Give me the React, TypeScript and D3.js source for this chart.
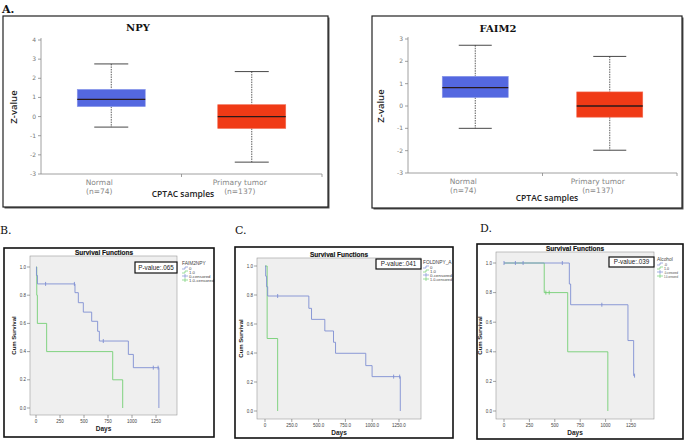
import React from "react";
import * as d3 from "d3";

// ---------- Data ----------
const boxGroups = ["Normal", "Primary tumor"];
const boxCounts = ["(n=74)", "(n=137)"];
// [lower whisker, Q1, median, Q3, upper whisker]
const npyStats = [
  [-0.55, 0.52, 0.9, 1.42, 2.75],
  [-2.38, -0.62, 0.0, 0.62, 2.35],
];
const faim2Stats = [
  [-1.0, 0.38, 0.82, 1.33, 2.72],
  [-1.98, -0.5, 0.0, 0.63, 2.22],
];
const npyTicks = [4, 3, 2, 1, 0, -1, -2, -3];
const faim2Ticks = [3, 2, 1, 0, -1, -2, -3];

const kmXTicks = [0, 250, 500, 750, 1000, 1250];
const kmYTicks = [0, 0.2, 0.4, 0.6, 0.8, 1.0];

// B: FAIM2NPY
const bSteps0: [number, number][] = [[0, 1], [5, 0.94], [15, 0.88], [406, 0.818], [441, 0.747], [493, 0.68], [580, 0.615], [642, 0.544], [660, 0.475], [962, 0.38], [1014, 0.286], [1280, 0]];
const bCens0: [number, number][] = [[100, 0.88], [400, 0.88], [701, 0.475], [1222, 0.286], [1272, 0.286]];
const bSteps1: [number, number][] = [[0, 1], [8, 0.8], [14, 0.6], [111, 0.4], [799, 0.2], [903, 0]];
const bCens1: [number, number][] = [];

// C: FOLDNPY_A
const cSteps0: [number, number][] = [[0, 1], [6, 0.93], [15, 0.857], [25, 0.793], [409, 0.708], [434, 0.632], [558, 0.552], [639, 0.474], [658, 0.398], [940, 0.313], [999, 0.237], [1262, 0]];
const cCens0: [number, number][] = [[118, 0.793], [1200, 0.237], [1256, 0.237]];
const cSteps1: [number, number][] = [[0, 1], [20, 0.5], [118, 0]];
const cCens1: [number, number][] = [];

// D: Alcohol
const dSteps0: [number, number][] = [[0, 1], [643, 0.858], [656, 0.718], [1220, 0.476], [1276, 0.239]];
const dCens0: [number, number][] = [[0, 1], [112, 1], [188, 1], [574, 1], [963, 0.718], [1285, 0.239]];
const dSteps1: [number, number][] = [[0, 1], [396, 0.8], [627, 0.4], [1022, 0]];
const dCens1: [number, number][] = [[412, 0.8], [445, 0.8]];

const legendLabels = ["0", "1.0", "0-censored", "1.0-censored"];
const dLegendLabels = [".0", "1.0", ".0-censored", "1.0-censored"];

const BLUE_BOX = "#5468e0";
const RED_BOX = "#f03a16";
const KM_BLUE = "#7f8fd2";
const KM_GREEN = "#74cf74";

// ---------- Box panel ----------
function BoxPanel(props: {
  frame: [number, number, number, number];
  title: string;
  titleX: number;
  titleY: number;
  domain: [number, number];
  yTop: number;
  yBottom: number;
  axisX: number;
  axisRight: number;
  ticks: number[];
  stats: number[][];
  boxW: number;
  zX: number;
  cptacX: number;
  cptacY: number;
}) {
  const { frame, title, titleX, titleY, domain, yTop, yBottom, axisX, axisRight, ticks, stats, boxW, zX, cptacX, cptacY } = props;
  const y = d3.scaleLinear().domain(domain).range([yBottom, yTop]);
  const x = d3.scalePoint<string>().domain(boxGroups).range([axisX, axisRight]).padding(0.5);
  const colors = [BLUE_BOX, RED_BOX];
  const [fx, fy, fw, fh] = frame;
  return (
    <g>
      <rect x={fx + 1.5} y={fy + 1.5} width={fw} height={fh} fill="#555" />
      <rect x={fx} y={fy} width={fw} height={fh} fill="#fff" stroke="#222" strokeWidth={1.2} />
      <text x={titleX} y={titleY} textAnchor="middle" fontFamily="DejaVu Serif" fontWeight="bold" fontSize={10} fill="#111">{title}</text>
      {/* y axis */}
      <line x1={axisX} x2={axisX} y1={yTop - 2} y2={yBottom} stroke="#888" strokeWidth={0.8} />
      {ticks.map((t) => (
        <g key={t}>
          <line x1={axisX - 3} x2={axisX} y1={y(t)} y2={y(t)} stroke="#888" strokeWidth={0.8} />
          <text x={axisX - 5} y={y(t) + 2} textAnchor="end" fontFamily="DejaVu Sans" fontSize={6} fill="#777">{t}</text>
        </g>
      ))}
      {/* x axis */}
      <line x1={axisX} x2={axisRight} y1={yBottom} y2={yBottom} stroke="#888" strokeWidth={0.8} />
      <line x1={(axisX + axisRight) / 2} x2={(axisX + axisRight) / 2} y1={yBottom} y2={yBottom + 3} stroke="#888" strokeWidth={0.8} />
      <line x1={axisRight} x2={axisRight} y1={yBottom} y2={yBottom + 3} stroke="#888" strokeWidth={0.8} />
      {stats.map((s, i) => {
        const cx = x(boxGroups[i]) as number;
        const capW = boxW * 0.5;
        return (
          <g key={i}>
            <line x1={cx} x2={cx} y1={y(s[4])} y2={y(s[3])} stroke="#333" strokeWidth={0.8} strokeDasharray="1.5,1" />
            <line x1={cx} x2={cx} y1={y(s[1])} y2={y(s[0])} stroke="#333" strokeWidth={0.8} strokeDasharray="1.5,1" />
            <line x1={cx - capW / 2} x2={cx + capW / 2} y1={y(s[4])} y2={y(s[4])} stroke="#333" strokeWidth={0.9} />
            <line x1={cx - capW / 2} x2={cx + capW / 2} y1={y(s[0])} y2={y(s[0])} stroke="#333" strokeWidth={0.9} />
            <rect x={cx - boxW / 2} y={y(s[3])} width={boxW} height={y(s[1]) - y(s[3])} fill={colors[i]} stroke={i === 0 ? "#8a98ea" : "#f26a50"} strokeWidth={0.6} />
            <line x1={cx - boxW / 2} x2={cx + boxW / 2} y1={y(s[2])} y2={y(s[2])} stroke="#2a1a1a" strokeWidth={1.3} />
            <text x={cx - 12} y={yBottom + 11} textAnchor="middle" fontFamily="DejaVu Sans" fontSize={7.5} fill="#888">{boxGroups[i]}</text>
            <text x={cx - 12} y={yBottom + 20} textAnchor="middle" fontFamily="DejaVu Sans" fontSize={7.5} fill="#888">{boxCounts[i]}</text>
          </g>
        );
      })}
      <text x={cptacX} y={cptacY} textAnchor="middle" fontFamily="Open Sans" fontWeight={600} fontSize={8.5} fill="#222">CPTAC samples</text>
      <text transform={`translate(${zX},${(yTop + yBottom) / 2}) rotate(-90)`} textAnchor="middle" fontFamily="Open Sans" fontWeight={600} fontSize={9.5} fill="#222">Z-value</text>
    </g>
  );
}

// ---------- KM panel ----------
function stepPath(steps: [number, number][], end: number, x: d3.ScaleLinear<number, number>, y: d3.ScaleLinear<number, number>) {
  const p = d3.path();
  p.moveTo(x(steps[0][0]), y(steps[0][1]));
  let prev = steps[0][1];
  for (let i = 1; i < steps.length; i++) {
    const [t, s] = steps[i];
    p.lineTo(x(t), y(prev));
    p.lineTo(x(t), y(s));
    prev = s;
  }
  if (end > steps[steps.length - 1][0]) p.lineTo(x(end), y(prev));
  return p.toString();
}

function KMPanel(props: {
  id: string;
  letter: string;
  letterX: number;
  letterY: number;
  frame: [number, number, number, number];
  plot: [number, number, number, number];
  xr: [number, number];
  yr: [number, number];
  steps0: [number, number][];
  end0: number;
  cens0: [number, number][];
  steps1: [number, number][];
  end1: number;
  cens1: [number, number][];
  pText: string;
  pBox: [number, number, number, number];
  legendTitle: string;
  legendX: number;
  legendY: number;
  labels: string[];
  legendFont: number;
  legendMaxW?: number;
  xFmt: (v: number) => string;
}) {
  const P = props;
  const x = d3.scaleLinear().domain([0, 1250]).range(P.xr);
  const y = d3.scaleLinear().domain([0, 1]).range(P.yr);
  const [fx, fy, fw, fh] = P.frame;
  const [px, py, pw, ph] = P.plot;
  const cross = (c: [number, number], color: string, k: number) => (
    <g key={k}>
      <line x1={x(c[0])} x2={x(c[0])} y1={y(c[1]) - 2} y2={y(c[1]) + 2} stroke={color} strokeWidth={0.9} />
    </g>
  );
  return (
    <g>
      <text x={P.letterX} y={P.letterY} fontFamily="DejaVu Serif" fontSize={11} fill="#111">{P.letter}</text>
      <rect x={fx} y={fy} width={fw} height={fh} fill="#fff" />
      <rect x={px} y={py} width={pw} height={ph} fill="#efefef" stroke="#999" strokeWidth={0.6} />
      <text x={Math.round((px + px + pw) / 2)} y={Math.round(py - 1)} textAnchor="middle" fontFamily="Arial, Liberation Sans" fontWeight="bold" fontSize={6.5} fill="#111" stroke="#111" strokeWidth={0.15}>Survival Functions</text>
      {kmYTicks.map((t) => (
        <g key={t}>
          <line x1={px - 3} x2={px} y1={y(t)} y2={y(t)} stroke="#666" strokeWidth={0.6} />
          <text x={px - 4} y={y(t) + 1.6} textAnchor="end" fontFamily="Liberation Sans" fontSize={4.5} fill="#444">{t.toFixed(1)}</text>
        </g>
      ))}
      {kmXTicks.map((t) => (
        <g key={t}>
          <line x1={x(t)} x2={x(t)} y1={py + ph} y2={py + ph + 3} stroke="#666" strokeWidth={0.6} />
          <text x={x(t)} y={py + ph + 8} textAnchor="middle" fontFamily="Liberation Sans" fontSize={4.5} fill="#444">{P.xFmt(t)}</text>
        </g>
      ))}
      <text x={(px + px + pw) / 2} y={py + ph + 16} textAnchor="middle" fontFamily="Liberation Sans" fontWeight="bold" fontSize={6.5} fill="#222">Days</text>
      <text transform={`translate(${px - 14},${(py + py + ph) / 2}) rotate(-90)`} textAnchor="middle" fontFamily="Liberation Sans" fontWeight="bold" fontSize={6} fill="#222">Cum Survival</text>
      <path d={stepPath(P.steps1, P.end1, x, y)} fill="none" stroke={KM_GREEN} strokeWidth={0.9} />
      <path d={stepPath(P.steps0, P.end0, x, y)} fill="none" stroke={KM_BLUE} strokeWidth={0.9} />
      {P.cens0.map((c, k) => cross(c, KM_BLUE, k))}
      {P.cens1.map((c, k) => cross(c, KM_GREEN, k))}
      <rect x={P.pBox[0]} y={P.pBox[1]} width={P.pBox[2]} height={P.pBox[3]} fill="#fff" stroke="#111" strokeWidth={1.2} />
      <text x={P.pBox[0] + P.pBox[2] / 2} y={P.pBox[1] + P.pBox[3] / 2 + 2.3} textAnchor="middle" fontFamily="Liberation Sans" fontSize={6.3} fill="#222">{P.pText}</text>
      {/* legend */}
      <text x={P.legendX} y={P.legendY} fontFamily="Liberation Sans" fontSize={4.8} fill="#444">{P.legendTitle}</text>
      {P.labels.map((lab, i) => {
        const ly = P.legendY + 4 + i * 4;
        const col = i % 2 === 0 ? KM_BLUE : KM_GREEN;
        const sym = i < 2
          ? <path d={`M${P.legendX},${ly} L${P.legendX + 3},${ly} L${P.legendX + 3},${ly - 2} L${P.legendX + 6},${ly - 2}`} fill="none" stroke={col} strokeWidth={0.7} />
          : <g><line x1={P.legendX} x2={P.legendX + 6} y1={ly - 1} y2={ly - 1} stroke={col} strokeWidth={0.7} /><line x1={P.legendX + 3} x2={P.legendX + 3} y1={ly - 3} y2={ly + 1} stroke={col} strokeWidth={0.7} /></g>;
        const long = P.legendMaxW && lab.length > 8;
        return (
          <g key={i}>
            {sym}
            <text x={P.legendX + 7} y={ly + 0.8} fontFamily="Liberation Sans" fontSize={P.legendFont} fill="#444"
              {...(long ? { textLength: P.legendMaxW, lengthAdjust: "spacingAndGlyphs" } : {})}>{lab}</text>
          </g>
        );
      })}
      <rect x={fx} y={fy} width={fw} height={fh} fill="none" stroke="#111" strokeWidth={1.6} />
    </g>
  );
}

export default function App() {
  const plain = (v: number) => String(v);
  const dec = (v: number) => (v === 0 ? "0" : v.toFixed(1));
  return (
    <svg width={685} height={441} style={{ position: "absolute", left: 0, top: 0, background: "#fff" }}>
      <rect x={0} y={0} width={685} height={441} fill="#fff" />
      <text x={2} y={13} fontFamily="DejaVu Serif" fontWeight="bold" fontSize={11} fill="#111">A.</text>
      <BoxPanel frame={[3, 16, 325, 191]} title="NPY" titleX={138} titleY={31} domain={[-3, 4]} yTop={40} yBottom={174}
        axisX={41} axisRight={322} ticks={npyTicks} stats={npyStats} boxW={68} zX={17} cptacX={183} cptacY={197} />
      <BoxPanel frame={[372, 16, 310, 192]} title="FAIM2" titleX={498} titleY={32} domain={[-3, 3]} yTop={39} yBottom={173}
        axisX={408} axisRight={677} ticks={faim2Ticks} stats={faim2Stats} boxW={66} zX={384} cptacX={547} cptacY={201} />

      <KMPanel id="kmB" letter="B." letterX={0} letterY={234} frame={[4, 248, 210, 189]} plot={[30, 256, 147, 159]}
        xr={[36, 156]} yr={[408, 267]} steps0={bSteps0} end0={1280} cens0={bCens0} steps1={bSteps1} end1={903} cens1={bCens1}
        pText="P-value:.065" pBox={[135, 262, 42, 11]} legendTitle="FAIM2NPY" legendX={182} legendY={265} labels={legendLabels} legendFont={4.3} xFmt={plain} />
      <KMPanel id="kmC" letter="C." letterX={235} letterY={234} frame={[235, 247, 218, 191]} plot={[257, 258, 164, 161]}
        xr={[265, 399]} yr={[411, 266]} steps0={cSteps0} end0={1262} cens0={cCens0} steps1={cSteps1} end1={118} cens1={cCens1}
        pText="P-value:.041" pBox={[376, 259, 45, 10]} legendTitle="FOLDNPY_A" legendX={423} legendY={264} labels={legendLabels} legendFont={4.3} legendMaxW={22} xFmt={dec} />
      <KMPanel id="kmD" letter="D." letterX={480} letterY={232} frame={[477, 244, 206, 195]} plot={[496, 252, 158, 167]}
        xr={[504, 631]} yr={[411, 263]} steps0={dSteps0} end0={1285} cens0={dCens0} steps1={dSteps1} end1={1022} cens1={dCens1}
        pText="P-value:.039" pBox={[609, 257, 45, 10]} legendTitle="Alcohol" legendX={657} legendY={261} labels={dLegendLabels} legendFont={3.6} legendMaxW={14} xFmt={plain} />
    </svg>
  );
}
